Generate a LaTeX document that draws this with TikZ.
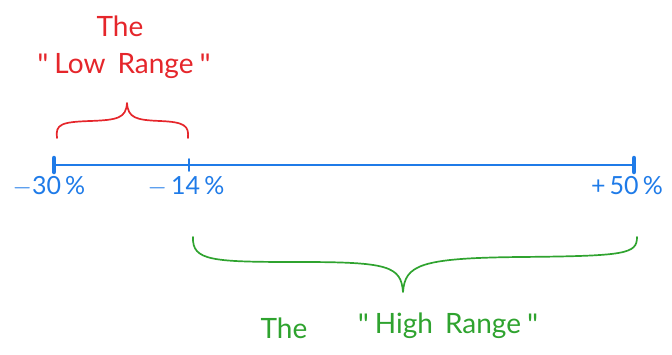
\documentclass[tikz,border=0pt]{standalone}
\usepackage{fontspec}
\setmainfont{Lato}[Ligatures={NoCommon,TeXOff}]
\definecolor{axisblue}{HTML}{1F7BE8}
\definecolor{lowred}{HTML}{E5262B}
\definecolor{highgreen}{HTML}{2FA32F}
\newcommand{\qm}{\raisebox{-2pt}{\fontsize{30}{30}\selectfont"}}
\begin{document}
\begin{tikzpicture}[x=1pt,y=-1pt,
  axis/.style={draw=axisblue,line width=2.6pt,line cap=round},
  endcap/.style={draw=axisblue,line width=4.5pt,line cap=round},
  tickmark/.style={draw=axisblue,line width=1.8pt,line cap=round},
  numlabel/.style={text=axisblue,font=\fontsize{25}{28}\selectfont,inner sep=0pt},
  lowtext/.style={text=lowred,font=\fontsize{28}{30}\selectfont,inner sep=0pt},
  hightext/.style={text=highgreen,font=\fontsize{28}{30}\selectfont,inner sep=0pt},
  lowbrace/.style={draw=lowred,line width=1.7pt,line cap=round,line join=round},
  highbrace/.style={draw=highgreen,line width=1.7pt,line cap=round,line join=round}]
\useasboundingbox (0,0) rectangle (672,354);
% axis
\coordinate (L) at (54,165);
\coordinate (M) at (189,165);
\coordinate (R) at (634,165);
\draw[axis] (L) -- (R);
\draw[endcap] ([yshift=-7]L) -- ([yshift=7]L);
\draw[endcap] ([yshift=-7]R) -- ([yshift=7]R);
\draw[tickmark] ([yshift=-6]M) -- ([yshift=6]M);
% labels
\node[numlabel] (n30) at (49,186) {$-$30\,\%};
\node[numlabel] (n14) at (186,186) {$-$\,14\,\%};
\node[numlabel] (n50) at (627,186) {+\,50\,\%};
% low range
\node[lowtext] (lowThe) at (120,26) {The};
\node[lowtext] (lowRange) at (124,66) {\qm\hspace{6pt}Low\hspace{12pt}Range\hspace{6pt}\qm};
\draw[lowbrace] (57,138) .. controls (55,124) and (62,122) .. (90,121)
  .. controls (118,120) and (126,118) .. (127,103)
  .. controls (128,118) and (136,120) .. (160,121)
  .. controls (185,122) and (189,126) .. (188,138);
% high range
\draw[highbrace] (193,237) .. controls (192,261) and (212,262) .. (300,262)
  .. controls (388,262) and (401,266) .. (403,292)
  .. controls (405,265) and (420,258) .. (520,257)
  .. controls (626,256) and (637,254) .. (637,237);
\node[hightext] (highThe) at (284,328) {The};
\node[hightext] (highRange) at (448,326) {\qm\hspace{6pt}High\hspace{12pt}Range\hspace{6pt}\qm};
\end{tikzpicture}
\end{document}
